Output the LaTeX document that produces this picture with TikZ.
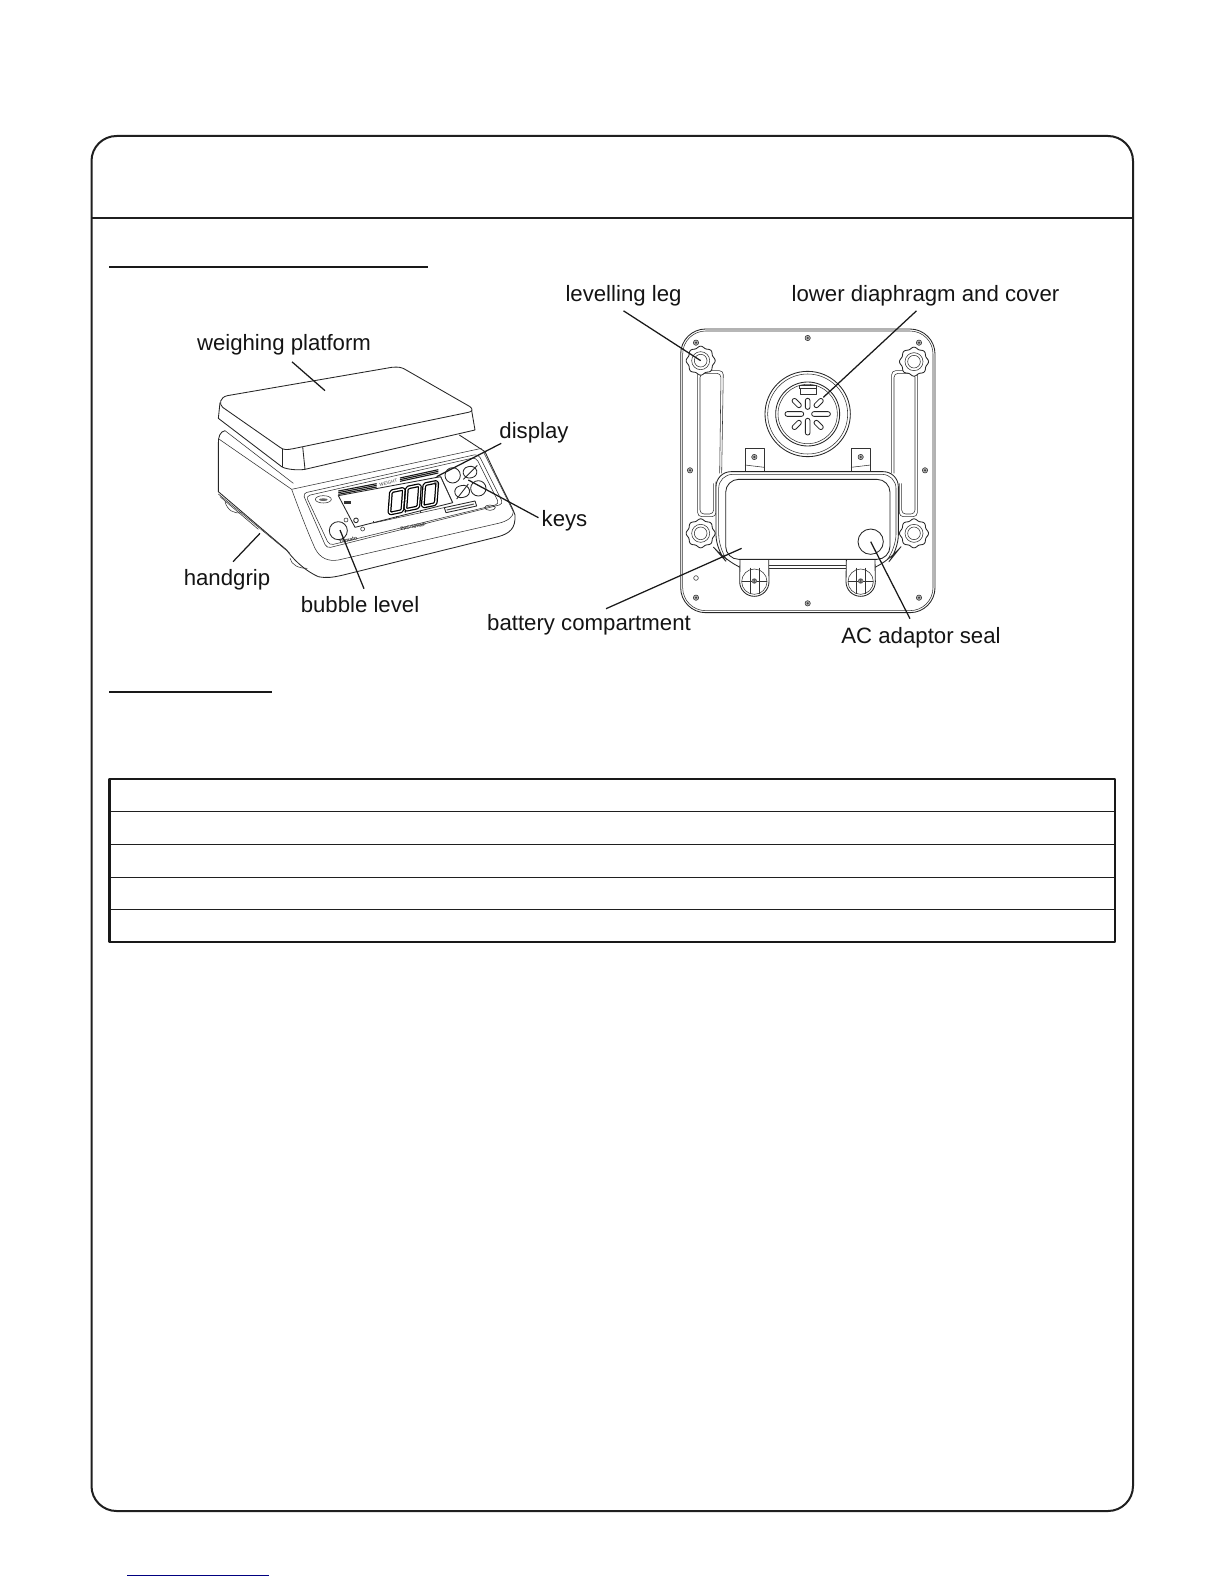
\documentclass[tikz,border=0pt]{standalone}
\usepackage{fontspec}
\setmainfont{Liberation Sans}
\usetikzlibrary{calc}
\newcommand{\zerodigit}[2]{\draw[line width=1.25pt,double=white,double distance=1.3pt,rounded corners=1.5pt] (#1-17,#2-30)--(#1+22,#2-38)--(#1+17,#2+29)--(#1-22,#2+37)--cycle;}
\newcommand{\smallscrew}[2]{\draw[fig,fill=black!30] (#1,#2) circle[radius=8]; \fill[black!75] (#1,#2) circle[radius=3.5];}
\newcommand{\knob}[2]{\draw[figb,fill=white,smooth,samples=97,domain=0:360] plot ({#1+(41+2.5*cos(8*\x))*cos(\x)},{#2+(41+2.5*cos(8*\x))*sin(\x)})--cycle;\draw[fig] (#1,#2) circle[radius=27];\draw[fig] (#1,#2) circle[radius=19];}
\newcommand{\latch}[1]{\draw[figb,fill=white] (#1-43,750)--(#1-44,815) arc[start angle=180,end angle=0,radius=44]--(#1+43,750);\draw[fig] (#1,815) circle[radius=38];\draw[fig] (#1-13,773)--(#1-13,852);\draw[fig] (#1+14,773)--(#1+14,852);\draw[fig] (#1-38,813)--(#1+38,813);\fill[black!65] (#1,813) circle[radius=8];\fill[white] (#1-4,813) circle[radius=1.6];\fill[white] (#1+4,813) circle[radius=1.6];}
\begin{document}
\begin{tikzpicture}[x=1pt,y=-1pt,line join=round,
  heavy/.style={draw=black!88,line width=2pt},
  tablerule/.style={draw=black!88,line width=1.1pt},
  leader/.style={draw=black!90,line width=1.25pt},
  lab/.style={anchor=base,inner sep=0pt,font=\fontsize{22.2}{26}\selectfont,text=black!92},
  fig/.style={draw=black!80,line width=0.55pt},
  figb/.style={draw=black!85,line width=0.85pt},
  tiny/.style={inner sep=0pt,text=black!80}]
\useasboundingbox (0,0) rectangle (1224,1584);
\fill[white] (0,0) rectangle (1224,1584);
% frame
\draw[heavy,rounded corners=25pt] (91.5,136) rectangle (1133,1511);
\draw[heavy] (91.5,218)--(1133,218);
\draw[black!90,line width=2pt] (109,266.7)--(428,266.7);
\draw[black!90,line width=2pt] (109,692)--(272,692);
% table
\draw[tablerule] (109.5,811.3)--(1115,811.3);
\draw[tablerule] (109.5,844.3)--(1115,844.3);
\draw[tablerule] (109.5,877.3)--(1115,877.3);
\draw[tablerule] (109.5,909.5)--(1115,909.5);
\draw[black!90,line width=2.2pt] (109.5,779) rectangle (1115,941.7);
\draw[draw={rgb,255:red,0;green,0;blue,128},line width=1pt] (127,1575.3)--(268.7,1575.3);
% labels
\node[lab] (lweigh) at (284,350) {weighing platform};
\node[lab] (lhand) at (227,585) {handgrip};
\node[lab] (lbubble) at (360,612) {bubble level};
\node[lab] (ldisplay) at (534,438.5) {display};
\node[lab] (lkeys) at (564.5,526) {keys};
\node[lab] (lleg) at (623.5,301) {levelling leg};
\node[lab] (ldia) at (925.5,301) {lower diaphragm and cover};
\node[lab] (lbatt) at (589,630) {battery compartment};
\node[lab] (lac) at (921,643) {AC adaptor seal};
% front view
\begin{scope}[shift={(170,320)},scale=1/3]
 % feet
 \draw[fig] (165,545) .. controls (172,570) and (190,582) .. (215,578);
 \draw[fig] (360,715) .. controls (365,735) and (385,745) .. (412,745);
 % base
 \draw[figb] (165,332) .. controls (150,335) and (145,350) .. (145,370)--(145,515)--(350,690) .. controls (365,712) and (400,750) .. (445,770) .. controls (470,775) and (490,772) .. (520,765)--(985,650) .. controls (1020,640) and (1037,625) .. (1035,585) .. controls (1025,555) and (1000,515) .. (945,395)--(868,345);
 \draw[fig] (165,332)--(370,490);
 \draw[fig] (148,358)--(365,508);
 \draw[fig] (145,522)--(360,700);
 \draw[fig] (150,530)--(265,628);
 \draw[fig] (365,508)--(935,385);
 \draw[fig] (365,508) .. controls (395,590) and (415,640) .. (435,685) .. controls (450,715) and (475,725) .. (505,720)--(985,610) .. controls (1015,603) and (1030,590) .. (1030,575);
 \draw[fig] (940,395)--(1030,575);
 % panel
 \draw[fig,rounded corners=4pt] (398,520)--(925,402)--(1000,552)--(470,685)--cycle;
 \draw[fig,rounded corners=4pt] (408,528)--(918,412)--(988,552)--(478,676)--cycle;
 % display
 \draw[figb] (505,527)--(812,470)--(848,548)--(555,622)--cycle;
 \draw[black!90,line width=1.1pt] (505,513)--(620,491);\draw[black!90,line width=1.1pt] (505,518)--(620,496);\draw[black!90,line width=1.1pt] (505,523)--(620,501);
 \draw[black!90,line width=1.1pt] (690,474)--(805,449);\draw[black!90,line width=1.1pt] (690,479)--(805,454);\draw[black!90,line width=1.1pt] (690,484)--(805,459);
 \node[tiny,rotate=12,font=\fontsize{4.5}{5}\selectfont] (tweight) at (655,488) {WEIGHT};
 \zerodigit{680}{544}
 \zerodigit{728}{533}
 \zerodigit{780}{523}
 \fill[black] (706,575) circle[radius=3];
 \node[tiny,rotate=12,font=\fontsize{5}{5}\selectfont] (tlb) at (798,490) {lb};
 \fill[black!80] (522,543) rectangle (543,552);
 \draw[fig] (528,600) circle[radius=6];
 \draw[figb] (558,601) circle[radius=7];
 \draw[fig] (610,609)--(822,563);
 \draw[fig] (610,603)--(610,609);\draw[fig] (680,588)--(680,594);\draw[fig] (750,573)--(750,579);
 % logo
 \draw[fig] (460,538) ellipse[x radius=24,y radius=11];
 \fill[black!60] (460,539) ellipse[x radius=13,y radius=4];
 \draw[fig] (960,563) ellipse[x radius=16,y radius=8];
 \draw[fig] (578,627) circle[radius=6];
 \node[tiny,rotate=12,font=\bfseries\fontsize{5.2}{6}\selectfont] (tyam) at (534,660) {Yamato};
 \node[tiny,rotate=12,font=\bfseries\fontsize{4.6}{6}\selectfont] (tppc) at (730,620) {PPC-300WP};
 % bubble
 \draw[figb] (505,632) circle[radius=27];
 % keys
 \draw[figb] (848,466) circle[radius=23];
 \draw[figb,rounded corners=6pt] (875,445)--(915,435)--(925,468)--(885,478)--cycle;
 \draw[figb] (880,478)--(922,436);
 \draw[figb,rounded corners=6pt] (850,503)--(893,492)--(903,526)--(860,537)--cycle;
 \draw[figb] (860,537)--(895,492);
 \draw[figb] (925,505) circle[radius=23];
 \draw[fig] (812,470)--(848,548);
 \draw[figb] (823,563)--(915,543)--(920,558)--(828,578)--cycle;
 \draw[black!70,line width=1pt] (830,570)--(912,552);
 % platform
 \draw[figb,fill=white] (150,248)--(145,295)--(335,440) .. controls (345,447) and (380,452) .. (405,448)--(915,330)--(905,272)--(398,378)--(350,388)--cycle;
 \draw[figb] (338,388)--(338,440);
 \draw[figb] (398,380)--(405,448);
 \draw[figb,fill=white] (172,227)--(665,142) .. controls (685,140) and (695,142) .. (705,148)--(900,260) .. controls (910,268) and (907,275) .. (895,277)--(370,386) .. controls (350,390) and (340,390) .. (330,382)--(158,262) .. controls (146,252) and (150,232) .. (172,227)--cycle;
 \coordinate (tweigh) at (465,212);
 \coordinate (thand) at (270,640);
 \coordinate (tbubble) at (510,630);
 \coordinate (tdisplay) at (800,470);
 \coordinate (tkeys) at (895,480);
\end{scope}
% back view
\begin{scope}[shift={(660,310)},scale=1/3]
 \draw[figb,rounded corners=25pt] (62,57) rectangle (825,908);
 \draw[fig,rounded corners=23pt] (68,63) rectangle (819,902);
 % slots
 \draw[fig,rounded corners=4pt] (185,490)--(190,182)--(113,182)--(113,620)--(168,620)--(168,515);
 \draw[fig,rounded corners=4pt] (179,490)--(183,190)--(120,190)--(120,612)--(161,612)--(161,520);
 \draw[fig,rounded corners=4pt] (695,490)--(695,182)--(772,182)--(772,620)--(718,620)--(718,520);
 \draw[fig,rounded corners=4pt] (702,490)--(702,190)--(765,190)--(765,612)--(725,612)--(725,520);
 % tabs
 \draw[fig] (255,485)--(255,415)--(313,415)--(313,485);
 \draw[fig] (573,485)--(573,415)--(632,415)--(632,485);
 \draw[fig] (255,465)--(313,472);\draw[fig] (573,472)--(632,465);
 % battery compartment
 \draw[figb,fill=white,rounded corners=15pt] (240,772)--(190,745)--(168,720)--(168,485)--(715,485)--(715,720)--(695,745)--(645,772);
 \draw[fig,rounded corners=14pt] (190,735)--(176,715)--(176,493)--(708,493)--(708,715)--(690,738);
 \draw[figb,rounded corners=13pt] (197,748)--(197,508)--(690,508)--(690,748)--cycle;
 \draw[fig] (327,765)--(558,765);
 \draw[fig] (327,775)--(558,775);
 \latch{283}
 \latch{602}
 \draw[figb] (632,695) circle[radius=38];
 % diaphragm
 \draw[figb] (443,312) circle[radius=128];
 \draw[fig] (443,312) circle[radius=120];
 \draw[figb] (443,312) circle[radius=96];
 \draw[fig] (443,312) circle[radius=89];
 \draw[fig] (417,236) -- (417,225) -- (470,225) -- (470,236);
 \draw[fig,fill=white] (420,235) rectangle (468,253);
 \foreach \a/\ra/\rb in {0/12/68,180/12/68,90/14/47,270/13/63,45/30/63,135/30/63,225/30/63,315/30/63}{
  \draw[figb,rounded corners=2.2pt,rotate around={\a:(443,312)}] (443+\ra,305) rectangle (443+\rb,319);
 }
 \draw[fig] (108,804) circle[radius=7];
 \smallscrew{443}{84}
 \smallscrew{108}{98}
 \smallscrew{777}{98}
 \smallscrew{90}{481}
 \smallscrew{795}{481}
 \smallscrew{443}{880}
 \smallscrew{108}{863}
 \smallscrew{777}{863}
 \smallscrew{283}{441}
 \smallscrew{602}{441}
 \knob{122}{152}
 \knob{762}{155}
 \knob{122}{670}
 \knob{762}{670}
 \coordinate (tleg) at (122,152);
 \coordinate (tdia) at (490,262);
 \coordinate (tbatt) at (245,715);
 \coordinate (tac) at (632,695);
\end{scope}
% leaders
\draw[leader] ($(lweigh.south)+(8,7)$)--(tweigh);
\draw[leader] ($(lhand.north)+(6,-7)$)--(thand);
\draw[leader] ($(lbubble.north)+(4,-7)$)--(tbubble);
\draw[leader] ($(ldisplay.south west)+(2,0)$)--(tdisplay);
\draw[leader] ($(lkeys.north west)+(-3,8)$)--(tkeys);
\draw[leader] ($(lleg.south)+(0,5)$)--(tleg);
\draw[leader] ($(ldia.south)+(-9,5)$)--(tdia);
\draw[leader] ($(lbatt.north)+(17,-5)$)--(tbatt);
\draw[leader] ($(lac.north)+(-11,-8)$)--(tac);
\end{tikzpicture}
\end{document}
